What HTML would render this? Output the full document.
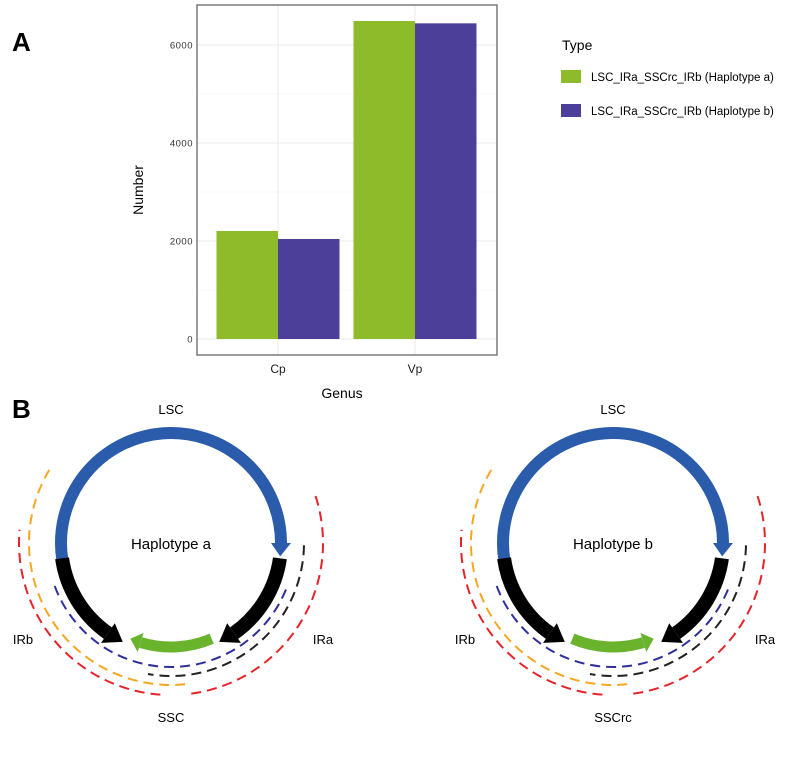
<!DOCTYPE html>
<html><head><meta charset="utf-8"><style>
body{margin:0;background:#fff}
svg{display:block;font-family:"Liberation Sans",Arial,sans-serif}
</style></head><body>
<svg id="s" width="799" height="766" viewBox="0 0 799 766" xmlns="http://www.w3.org/2000/svg">
<text x="12" y="51" font-size="26" font-weight="bold">A</text>
<text x="12" y="418" font-size="26" font-weight="bold">B</text>
<g id="chart"></g>
<text x="562" y="50" font-size="14">Type</text>
<rect x="561" y="70" width="20" height="13" fill="#8dbb29"/>
<text x="591" y="81" font-size="11.5">LSC_IRa_SSCrc_IRb (Haplotype a)</text>
<rect x="561" y="104" width="20" height="13" fill="#4b3f99"/>
<text x="591" y="115" font-size="11.5">LSC_IRa_SSCrc_IRb (Haplotype b)</text>
<g id="diag"></g>
</svg>
<script>
const categories=["Cp","Vp"];
const seriesA=[2204,6490];
const seriesB=[2041,6442];
const yTicks=[0,2000,4000,6000];
const NS="http://www.w3.org/2000/svg";
function mk(p,t,a){const e=document.createElementNS(NS,t);for(const k in a)e.setAttribute(k,a[k]);p.appendChild(e);return e;}
const chart=document.getElementById('chart');
const L=197,R=497,T=5,B=355,Y0=339,Ypx=(339-45)/6000;
const y=v=>Y0-v*Ypx;
const xc=i=>278+i*137;
for(let v=0;v<=7000;v+=1000){if(y(v)<T)continue;const g=mk(chart,'line',{x1:L,x2:R,y1:y(v),y2:y(v),stroke:v%2000?'#f2f2f2':'#ebebeb','stroke-width':v%2000?0.6:1});

}
categories.forEach((c,i)=>{const g=mk(chart,'line',{x1:xc(i),x2:xc(i),y1:T,y2:B,stroke:'#ebebeb'});

});
categories.forEach((c,i)=>{
const a=mk(chart,'rect',{x:xc(i)-61.5,y:y(seriesA[i]),width:61.5,height:Y0-y(seriesA[i]),fill:'#8dbb29'});


const b=mk(chart,'rect',{x:xc(i),y:y(seriesB[i]),width:61.5,height:Y0-y(seriesB[i]),fill:'#4b3f99'});


const t=mk(chart,'text',{x:xc(i),y:373,'font-size':12,'text-anchor':'middle',fill:'#222'});t.textContent=c;


});
yTicks.forEach(v=>{const t=mk(chart,'text',{x:193,y:y(v)+3.5,'font-size':9.5,'text-anchor':'end',fill:'#333','letter-spacing':'0.5'});t.textContent=v;

});
const fr=mk(chart,'rect',{x:L,y:T,width:R-L,height:B-T,fill:'none',stroke:'#666','stroke-width':1.3});


const xt=mk(chart,'text',{x:342,y:398,'font-size':14,'text-anchor':'middle'});xt.textContent='Genus';


const yt=mk(chart,'text',{x:0,y:0,'font-size':14,'text-anchor':'middle',transform:'translate(143,190) rotate(-90)'});yt.textContent='Number';



const diag=document.getElementById('diag');
const P=(cx,cy,r,a)=>[cx+r*Math.cos(a*Math.PI/180),cy+r*Math.sin(a*Math.PI/180)];
function arcD(cx,cy,r,a1,a2){const s=P(cx,cy,r,a1),e=P(cx,cy,r,a2);const large=Math.abs(a2-a1)>180?1:0;const sw=a2>a1?1:0;return `M${s[0]},${s[1]} A${r},${r} 0 ${large} ${sw} ${e[0]},${e[1]}`;}
function arrow(g,cx,cy,r,a1,a2,w,col,hw,hl,name){
const dir=a2>a1?1:-1;const p=mk(g,'path',{d:arcD(cx,cy,r,a1,a2),fill:'none',stroke:col,'stroke-width':w});


const b1=P(cx,cy,r-hw,a2),b2=P(cx,cy,r+hw,a2),tp=P(cx,cy,r,a2+dir*hl);
const h=mk(g,'polygon',{points:`${b1} ${b2} ${tp}`,fill:col});

}
function dash(g,cx,cy,r,a1,a2,col,name){const p=mk(g,'path',{d:arcD(cx,cy,r,a1,a2),fill:'none',stroke:col,'stroke-width':2,'stroke-dasharray':'10 6'});

}
function txt(g,x,yv,s,fs,name){const t=mk(g,'text',{x:x,y:yv,'font-size':fs,'text-anchor':'middle'});t.textContent=s;

}
function diagram(cx,cy,label,ssc,right,id){
const g=mk(diag,'g',{});


dash(g,cx,cy,124,22,162,'#2f2f9a','dashed-arc-blue');
dash(g,cx,cy,133,1,100,'#222','dashed-arc-black');
dash(g,cx,cy,142,211,84,'#f5a623','dashed-arc-orange');
dash(g,cx,cy,152,-18,84,'#e5232a','dashed-arc-red-right');
dash(g,cx,cy,152,94,185,'#e5232a','dashed-arc-red-left');
arrow(g,cx,cy,110,171,360,12,'#2b5bab',10,7,'lsc-arrow');
arrow(g,cx,cy,110,8,55,14,'#000',12,9,'ira-arrow');
arrow(g,cx,cy,110,172,125,14,'#000',12,9,'irb-arrow');
if(right)arrow(g,cx,cy,104,113,73,11,'#6ab42d',10,6,'ssc-arrow');
else arrow(g,cx,cy,104,67,107,11,'#6ab42d',10,6,'ssc-arrow');
txt(g,cx,414,'LSC',13,'lsc-label');
txt(g,cx,549,label,15,'haplotype-label');
txt(g,cx-148,644,'IRb',13,'irb-label');
txt(g,cx+152,644,'IRa',13,'ira-label');
txt(g,cx,722,ssc,13,'ssc-label');
}
diagram(171,543,'Haplotype  a','SSC',false,'a');
diagram(613,543,'Haplotype  b','SSCrc',true,'b');
</script>
</body></html>
